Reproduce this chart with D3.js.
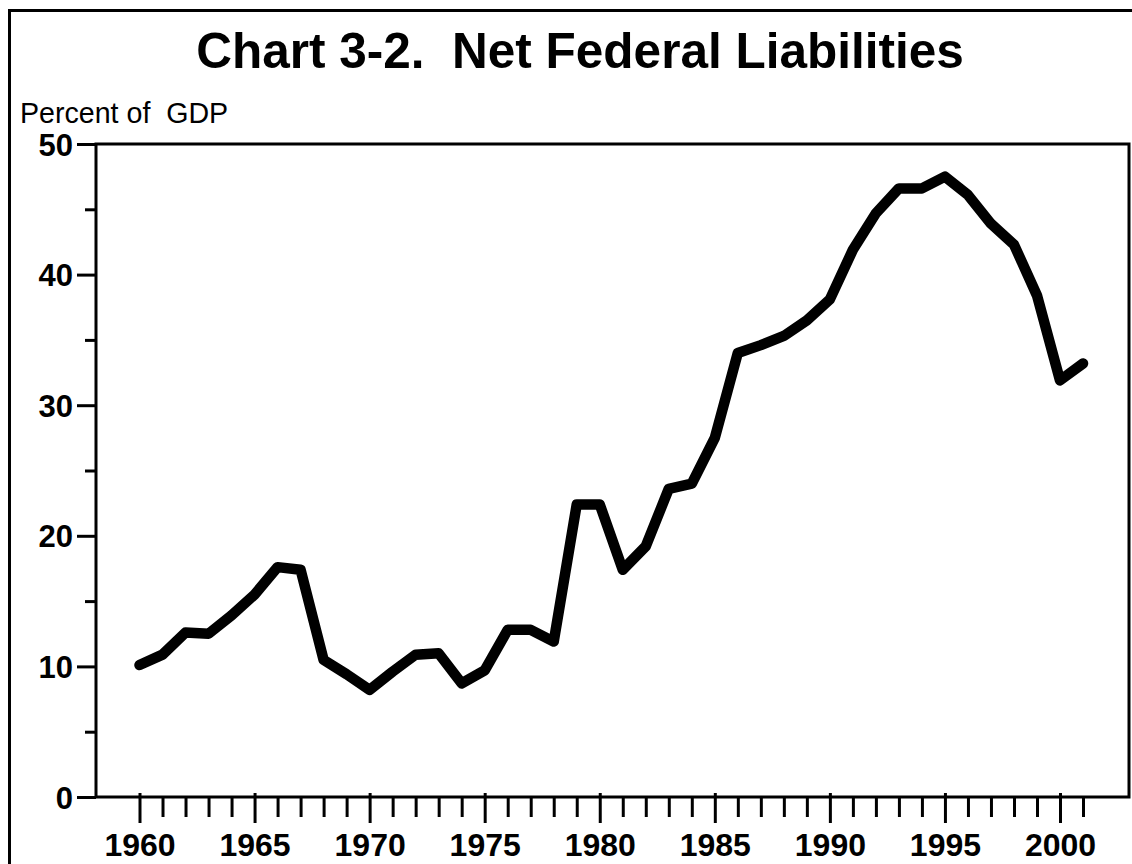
<!DOCTYPE html>
<html>
<head>
<meta charset="utf-8">
<script src="https://cdn.jsdelivr.net/npm/d3@7"></script>
<style>
  html, body { margin: 0; padding: 0; background: #fff; }
  svg { display: block; }
  text { font-family: "Liberation Sans", Arial, sans-serif; fill: #000; white-space: pre; }
</style>
</head>
<body>
<svg id="chart" width="1132" height="864"></svg>
<script>
// ---- data ----
const years = [1960,1961,1962,1963,1964,1965,1966,1967,1968,1969,
               1970,1971,1972,1973,1974,1975,1976,1977,1978,1979,
               1980,1981,1982,1983,1984,1985,1986,1987,1988,1989,
               1990,1991,1992,1993,1994,1995,1996,1997,1998,1999,
               2000,2001];
const liabilities = [10.1,10.9,12.6,12.5,13.9,15.5,17.6,17.4,10.5,9.4,
                     8.2,9.6,10.9,11.0,8.7,9.7,12.8,12.8,11.9,22.4,
                     22.4,17.4,19.2,23.6,24.0,27.5,34.0,34.6,35.3,36.5,
                     38.1,41.9,44.7,46.6,46.6,47.5,46.1,43.9,42.3,38.4,
                     31.9,33.2];
const yTickValues = [0,10,20,30,40,50];
const yMinorValues = [5,15,25,35,45];
const xLabelYears = [1960,1965,1970,1975,1980,1985,1990,1995,2000];
const titleText = "Chart 3-2.  Net Federal Liabilities";
const yAxisTitle = "Percent of  GDP";

// ---- layout ----
const svg = d3.select("#chart");
const plot = {left: 96, right: 1129, top: 144, bottom: 797};

const x = d3.scaleLinear().domain([1960, 2000]).range([139.5, 1060]);
const y = d3.scaleLinear().domain([0, 50]).range([plot.bottom, plot.top]);

// outer frame (open at right/bottom)
svg.append("path")
  .attr("d", `M9.5,870 L9.5,10.5 L1140,10.5`)
  .attr("fill", "none").attr("stroke", "#000").attr("stroke-width", 3);

// title
svg.append("text")
  .attr("x", 580).attr("y", 68)
  .attr("text-anchor", "middle")
  .style("font-weight", "bold").style("font-size", "49.5px")
  .text(titleText);

svg.append("text")
  .attr("x", 20).attr("y", 123)
  .style("font-size", "28.6px")
  .text(yAxisTitle);

// plot frame
svg.append("rect")
  .attr("x", plot.left).attr("y", plot.top)
  .attr("width", plot.right - plot.left).attr("height", plot.bottom - plot.top)
  .attr("fill", "none").attr("stroke", "#000").attr("stroke-width", 3);

// y axis major ticks + labels
const yAxis = d3.axisLeft(y).tickValues(yTickValues).tickSize(19).tickPadding(4).tickFormat(d3.format("d"));
const gy = svg.append("g").attr("transform", `translate(${plot.left},0)`).call(yAxis);
gy.select(".domain").remove();
gy.selectAll(".tick line").attr("stroke", "#000").attr("stroke-width", 3);
gy.selectAll(".tick text").style("font-size", "31px").style("font-weight", "bold")
  .attr("fill", "#000").attr("font-family", null).attr("dy", "0.36em");

// y minor ticks
const yMinor = d3.axisLeft(y).tickValues(yMinorValues).tickSize(11).tickFormat("");
const gym = svg.append("g").attr("transform", `translate(${plot.left},0)`).call(yMinor);
gym.select(".domain").remove();
gym.selectAll(".tick line").attr("stroke", "#000").attr("stroke-width", 3);

// x axis ticks: minor every year, major every 5 years
const xMinor = d3.axisBottom(x).tickValues(years.filter(d => d % 5 !== 0)).tickSize(20).tickFormat("");
const gxm = svg.append("g").attr("transform", `translate(0,${plot.bottom})`).call(xMinor);
gxm.select(".domain").remove();
gxm.selectAll(".tick line").attr("stroke", "#000").attr("stroke-width", 3);

const xAxis = d3.axisBottom(x).tickValues(xLabelYears).tickSize(26).tickPadding(10).tickFormat(d3.format("d"));
const gx = svg.append("g").attr("transform", `translate(0,${plot.bottom})`).call(xAxis);
gx.select(".domain").remove();
gx.selectAll(".tick line").attr("stroke", "#000").attr("stroke-width", 3).attr("y1", -4);
gx.selectAll(".tick text").style("font-size", "32px").style("font-weight", "bold")
  .attr("fill", "#000").attr("font-family", null);

// data line
const line = d3.line().x((d, i) => x(years[i])).y(d => y(d));
svg.append("path")
  .datum(liabilities)
  .attr("d", line)
  .attr("fill", "none").attr("stroke", "#000")
  .attr("stroke-width", 10.5)
  .attr("stroke-linejoin", "round").attr("stroke-linecap", "round");
</script>
</body>
</html>
